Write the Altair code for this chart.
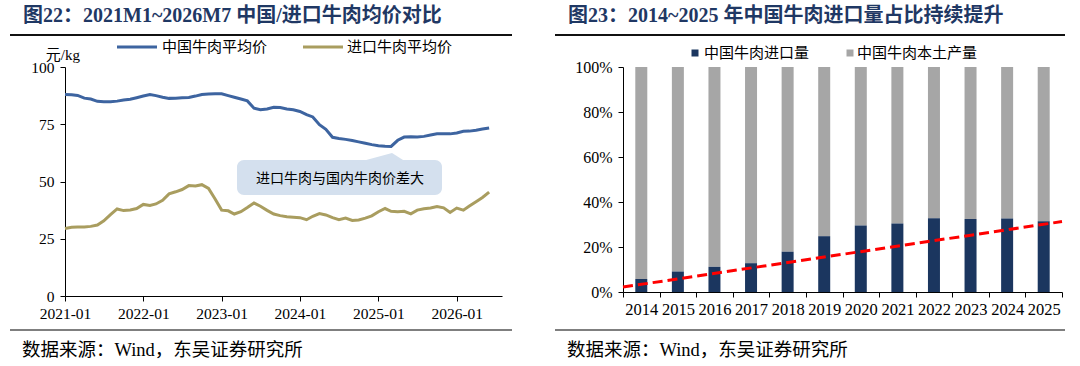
import altair as alt
import pandas as pd

# ---------------- data ----------------
months = pd.date_range("2021-01-01", periods=66, freq="MS").strftime("%Y-%m-%d").tolist()
china_price = [88.0, 87.9, 87.6, 86.4, 86.0, 85.0, 84.8, 84.8, 85.1, 85.6, 85.9, 86.6,
               87.3, 88.0, 87.5, 86.8, 86.3, 86.4, 86.6, 86.7, 87.3, 88.0, 88.2, 88.3,
               88.3, 87.5, 86.8, 86.0, 85.2, 82.0, 81.3, 81.7, 82.4, 82.3, 81.7, 81.3,
               80.6, 79.2, 78.2, 74.8, 72.8, 69.3, 68.8, 68.4, 67.9, 67.3, 66.7, 66.1,
               65.6, 65.4, 65.3, 68.0, 69.4, 69.5, 69.4, 69.7, 70.3, 70.8, 70.8, 70.8,
               71.2, 71.9, 72.0, 72.4, 72.9, 73.4]
import_price = [29.5, 30.0, 30.1, 30.1, 30.4, 31.0, 32.8, 35.5, 38.0, 37.3, 37.6, 38.2,
                40.0, 39.5, 40.2, 41.8, 44.6, 45.5, 46.5, 48.2, 48.0, 48.6, 47.0, 42.5,
                37.5, 37.2, 35.8, 36.8, 38.6, 40.6, 39.2, 37.4, 35.8, 35.1, 34.6, 34.4,
                34.2, 33.3, 34.8, 36.0, 35.4, 34.2, 33.3, 34.0, 33.0, 33.2, 34.0, 35.0,
                36.8, 38.2, 37.0, 36.8, 37.0, 35.9, 37.5, 38.1, 38.4, 39.1, 38.5, 36.5,
                38.4, 37.5, 39.3, 41.2, 43.0, 45.4]
series_names = ["中国牛肉平均价", "进口牛肉平均价"]
line_colors = ["#3d64a0", "#a99d5f"]
x_tick_years = [2021, 2022, 2023, 2024, 2025, 2026]
y_ticks_left = [0, 25, 50, 75, 100]

years = [str(y) for y in range(2014, 2026)]
import_share = [0.058, 0.091, 0.112, 0.128, 0.179, 0.248, 0.296, 0.304, 0.328, 0.324, 0.327, 0.315]
bar_names = ["中国牛肉进口量", "中国牛肉本土产量"]
bar_colors = ["#1b365f", "#a6a6a6"]
trend_pos = [0, 12]
trend_share = [0.022, 0.313]
y_ticks_right = [0, 0.2, 0.4, 0.6, 0.8, 1.0]

title_left = "图22：2021M1~2026M7 中国/进口牛肉均价对比"
title_right = "图23：2014~2025 年中国牛肉进口量占比持续提升"
source_text = "数据来源：Wind，东吴证券研究所"
note_text = "进口牛肉与国内牛肉价差大"
unit_text = "元/kg"

# ---------------- styling ----------------
SERIF = "Liberation Serif"
MIX = "Liberation Serif, Noto Sans CJK SC"
CJK = "Noto Sans CJK SC"
TITLE_COLOR = "#1f3864"
BOX = "#d4e0ee"

one = alt.Data(values=[{"k": 0}])


def txt(s, x, y, size, font=MIX, color="#000", weight="normal", align="left"):
    return alt.Chart(one).mark_text(
        text=s, fontSize=size, font=font, color=color, fontWeight=weight,
        align=align, baseline="middle"
    ).encode(x=alt.value(x), y=alt.value(y))


def hrule(x1, x2, y, color, width, opacity=1):
    return alt.Chart(one).mark_rule(color=color, strokeWidth=width, strokeOpacity=opacity).encode(
        x=alt.value(x1), x2=alt.value(x2), y=alt.value(y))


def axis_style(**kw):
    base = dict(title=None, grid=False, domainColor="#000", tickColor="#000",
                labelColor="#000", labelFont=SERIF, tickSize=5, domainWidth=1,
                tickWidth=1)
    base.update(kw)
    return alt.Axis(**base)


# ---------------- left chart ----------------
W1, H1 = 437, 229
df_lines = pd.DataFrame({
    "date": months * 2,
    "price": china_price + import_price,
    "series": [series_names[0]] * len(china_price) + [series_names[1]] * len(import_price),
})

xdom = [alt.DateTime(year=2021, month=1, date=1, utc=True),
        alt.DateTime(year=2026, month=7, date=31, utc=True)]

lines = alt.Chart(df_lines).mark_line(strokeWidth=3).encode(
    x=alt.X("date:T", scale=alt.Scale(type="utc", domain=xdom),
            axis=axis_style(values=[alt.DateTime(year=y, month=1, date=1, utc=True) for y in x_tick_years],
                            labelExpr="utcFormat(datum.value, '%Y-%m')", labelFontSize=15.5,
                            labelPadding=5, labelAngle=0, labelFlush=False, labelOverlap=False)),
    y=alt.Y("price:Q", scale=alt.Scale(domain=[0, 100]),
            axis=axis_style(values=y_ticks_left, labelFontSize=15.5, labelPadding=6)),
    color=alt.Color("series:N", scale=alt.Scale(domain=series_names, range=line_colors), legend=None),
)

anchor = hrule(-64.5, -60, -66.5, "#fff", 1, opacity=0)

note_box = alt.Chart(one).mark_rect(color=BOX, cornerRadius=7).encode(
    x=alt.value(172), x2=alt.value(377), y=alt.value(93), y2=alt.value(128))
note_tip = alt.Chart(one).mark_point(
    shape="M -1 0.1 L 0.4 -0.28 L 1 0.1 Z", filled=True, size=2500,
    color=BOX, opacity=1, strokeWidth=0
).encode(x=alt.value(317), y=alt.value(93))

left = alt.layer(
    anchor,
    lines,
    note_box, note_tip,
    txt(note_text, 275, 112, 14, font=CJK, align="center"),
    txt(title_left, -42, -51, 20, color=TITLE_COLOR, weight="bold"),
    hrule(-55, 447, -32, "#111", 2),
    hrule(-55, 447, 263, "#555", 1.5),
    txt(source_text, -43, 283, 18.5),
    txt(unit_text, 15, -12, 15, align="right"),
    hrule(52, 92, -20, line_colors[0], 3),
    txt(series_names[0], 97, -20, 15, font=CJK),
    hrule(238, 278, -20, line_colors[1], 3),
    txt(series_names[1], 282, -20, 15, font=CJK),
).properties(width=W1, height=H1)

# ---------------- right chart ----------------
W2, H2 = 439, 225
df_bars = pd.DataFrame({"year": years, "imp": import_share})
x_band = alt.X("year:O", scale=alt.Scale(paddingInner=0, paddingOuter=0),
               axis=axis_style(labelAngle=0, tickBand="extent", labelFontSize=16.5, labelPadding=4))
y_share = alt.Y("imp:Q", scale=alt.Scale(domain=[0, 1]),
                axis=axis_style(values=y_ticks_right, format=".0%", labelFontSize=16, labelPadding=6))

dom_bar = alt.Chart(df_bars).transform_calculate(top="1").mark_bar(
    size=12, color=bar_colors[1]).encode(x=x_band, y=y_share, y2="top:Q")
imp_bar = alt.Chart(df_bars).mark_bar(size=12, color=bar_colors[0]).encode(x=x_band, y=y_share)

df_trend = pd.DataFrame({"pos": trend_pos, "share": trend_share})
trend = alt.Chart(df_trend).mark_line(color="#ff0000", strokeWidth=3, strokeDash=[10, 5]).encode(
    x=alt.X("pos:Q", scale=alt.Scale(domain=[0, 12], nice=False, zero=False), axis=None),
    y=alt.Y("share:Q"),
)

bars = alt.layer(alt.layer(dom_bar, imp_bar), trend).resolve_scale(x="independent")

right = alt.layer(
    bars,
    txt(title_right, -55, -51, 20, color=TITLE_COLOR, weight="bold"),
    hrule(-68, 442, -32, "#111", 2),
    hrule(-68, 442, 263, "#555", 1.5),
    txt(source_text, -56, 283, 18.5),
    alt.Chart(one).mark_point(shape="square", filled=True, size=49, color=bar_colors[0], opacity=1)
        .encode(x=alt.value(72), y=alt.value(-14)),
    txt(bar_names[0], 81, -14, 15, font=CJK),
    alt.Chart(one).mark_point(shape="square", filled=True, size=49, color=bar_colors[1], opacity=1)
        .encode(x=alt.value(227), y=alt.value(-14)),
    txt(bar_names[1], 234, -14, 15, font=CJK),
).properties(width=W2, height=H2)

chart = alt.hconcat(left, right, spacing=121, bounds="flush", padding=0).configure_view(stroke=None)

chart.save("out.html", embed_options={"renderer": "svg", "actions": False})
